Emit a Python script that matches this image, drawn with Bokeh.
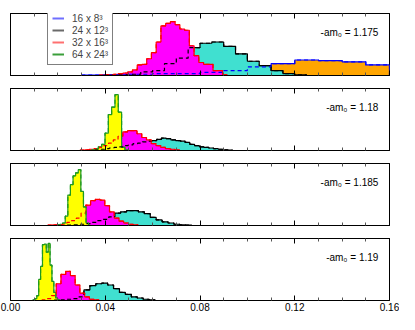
from bokeh.plotting import figure
from bokeh.layouts import column
from bokeh.models import (Range1d, LinearAxis, FixedTicker, NumeralTickFormatter,
                          Label, Legend, LegendItem)
from bokeh.embed import file_html
from bokeh.resources import INLINE

# ---------------- data ----------------
series_names = ["16 x 8\u00b3", "24 x 12\u00b3", "32 x 16\u00b3", "64 x 24\u00b3"]
am0_values = ["1.175", "1.18", "1.185", "1.19"]
major_tick_vals = [0.00, 0.04, 0.08, 0.12, 0.16]
minor_tick_vals = [0.01, 0.02, 0.03, 0.05, 0.06, 0.07, 0.09, 0.10, 0.11, 0.13, 0.14, 0.15]

# each histogram: first bin edge, bin width, bin heights (fraction of panel height)
p1_orange_lo, p1_orange_w = 0.030, 0.010
p1_orange_h = [0.005, 0.01, 0.02, 0.03, 0.03, 0.05, 0.08, 0.14, 0.19, 0.25, 0.24, 0.22, 0.17]
p1_cyan_lo, p1_cyan_w = 0.040, 0.005
p1_cyan_h = [0.005, 0.01, 0.02, 0.06, 0.08, 0.19, 0.28, 0.45, 0.52, 0.54, 0.47, 0.35, 0.23,
             0.16, 0.08, 0.03, 0.01]
p1_magenta_lo, p1_magenta_w = 0.0375, 0.002
p1_magenta_h = [0.005, 0.01, 0.015, 0.02, 0.03, 0.04, 0.06, 0.09, 0.17, 0.18, 0.27, 0.37, 0.54,
                0.80, 0.84, 0.87, 0.82, 0.75, 0.73, 0.48, 0.32, 0.21, 0.18, 0.18, 0.08, 0.08, 0.01]
p1_yellow_lo, p1_yellow_w = 0.0, 0.001
p1_yellow_h = []

p2_orange_lo, p2_orange_w = 0.0, 0.01
p2_orange_h = []
p2_cyan_lo, p2_cyan_w = 0.0357, 0.002
p2_cyan_h = [0.01, 0.02, 0.03, 0.04, 0.05, 0.06, 0.08, 0.09, 0.11, 0.12, 0.14, 0.15, 0.16, 0.18,
             0.20, 0.19, 0.17, 0.16, 0.15, 0.13, 0.10, 0.08, 0.06, 0.05, 0.04, 0.03, 0.02, 0.01, 0.005]
p2_magenta_lo, p2_magenta_w = 0.0294, 0.002
p2_magenta_h = [0.005, 0.01, 0.02, 0.03, 0.05, 0.08, 0.12, 0.17, 0.23, 0.30, 0.32, 0.32, 0.27,
                0.21, 0.17, 0.11, 0.08, 0.05, 0.03, 0.02, 0.01]
p2_yellow_lo, p2_yellow_w = 0.0343, 0.0014
p2_yellow_h = [0.01, 0.03, 0.06, 0.10, 0.28, 0.58, 0.70, 0.90, 0.62, 0.05, 0.01]

p3_orange_lo, p3_orange_w = 0.0, 0.01
p3_orange_h = []
p3_cyan_lo, p3_cyan_w = 0.0240, 0.0025
p3_cyan_h = [0.005, 0.01, 0.02, 0.03, 0.05, 0.08, 0.10, 0.14, 0.20, 0.22, 0.24, 0.24, 0.22, 0.19,
             0.13, 0.09, 0.06, 0.04, 0.02, 0.01, 0.005]
p3_magenta_lo, p3_magenta_w = 0.0158, 0.002
p3_magenta_h = [0.005, 0.01, 0.015, 0.02, 0.05, 0.08, 0.12, 0.20, 0.33, 0.40, 0.42, 0.41, 0.32,
                0.22, 0.12, 0.07, 0.04, 0.02, 0.01]
p3_yellow_lo, p3_yellow_w = 0.0198, 0.0011
p3_yellow_h = [0.01, 0.02, 0.04, 0.15, 0.49, 0.66, 0.80, 0.85, 0.90, 0.55, 0.30, 0.04]

p4_orange_lo, p4_orange_w = 0.0, 0.01
p4_orange_h = []
p4_cyan_lo, p4_cyan_w = 0.0185, 0.0025
p4_cyan_h = [0.005, 0.01, 0.02, 0.03, 0.06, 0.17, 0.24, 0.27, 0.28, 0.25, 0.19, 0.13, 0.10, 0.06,
             0.04, 0.02, 0.01]
p4_magenta_lo, p4_magenta_w = 0.0133, 0.002
p4_magenta_h = [0.01, 0.03, 0.08, 0.27, 0.42, 0.47, 0.40, 0.25, 0.12, 0.06, 0.02, 0.01]
p4_yellow_lo, p4_yellow_w = 0.0095, 0.0008
p4_yellow_h = [0.01, 0.03, 0.08, 0.34, 0.55, 0.90, 0.91, 0.78, 0.92, 0.57, 0.31, 0.13, 0.04, 0.01]

panels = [
    [(p1_orange_lo, p1_orange_w, p1_orange_h), (p1_cyan_lo, p1_cyan_w, p1_cyan_h),
     (p1_magenta_lo, p1_magenta_w, p1_magenta_h), (p1_yellow_lo, p1_yellow_w, p1_yellow_h)],
    [(p2_orange_lo, p2_orange_w, p2_orange_h), (p2_cyan_lo, p2_cyan_w, p2_cyan_h),
     (p2_magenta_lo, p2_magenta_w, p2_magenta_h), (p2_yellow_lo, p2_yellow_w, p2_yellow_h)],
    [(p3_orange_lo, p3_orange_w, p3_orange_h), (p3_cyan_lo, p3_cyan_w, p3_cyan_h),
     (p3_magenta_lo, p3_magenta_w, p3_magenta_h), (p3_yellow_lo, p3_yellow_w, p3_yellow_h)],
    [(p4_orange_lo, p4_orange_w, p4_orange_h), (p4_cyan_lo, p4_cyan_w, p4_cyan_h),
     (p4_magenta_lo, p4_magenta_w, p4_magenta_h), (p4_yellow_lo, p4_yellow_w, p4_yellow_h)],
]

# ---------------- style ----------------
FILL = ["#ffa500", "#40e0d0", "#ff00ff", "#ffff00"]
EDGE = ["#0000ff", "#000000", "#ff0000", "#1f9a1f"]
LEGEND_COL = ["#6f6fff", "#6a6a6a", "#ff7070", "#3a9f3a"]
FONT = "Liberation Sans"
FW, FH = 379, 62
NAN = float("nan")


def outline(lo, w, h):
    xs, ys = [lo], [0.0]
    for i, v in enumerate(h):
        a = lo + i * w
        xs += [a, a + w]
        ys += [v, v]
    xs.append(lo + len(h) * w)
    ys.append(0.0)
    return xs, ys


def tick_only_axis(ticks, length, color):
    ax = LinearAxis(ticker=FixedTicker(ticks=[], minor_ticks=ticks))
    ax.minor_tick_in = length
    ax.minor_tick_out = 0
    ax.major_tick_in = 0
    ax.major_tick_out = 0
    ax.minor_tick_line_color = color
    ax.axis_line_color = "black"
    ax.major_label_standoff = 0
    return ax


borders = [(13, 6), (7, 6), (7, 6), (7, 13)]
figs = []
for k, data in enumerate(panels):
    top_b, bot_b = borders[k]
    last = (k == len(panels) - 1)
    p = figure(frame_width=FW, frame_height=FH, x_range=Range1d(0, 0.16), y_range=Range1d(0, 1),
               output_backend="svg", toolbar_location=None, y_axis_location=None,
               x_axis_location=None,
               min_border_left=10, min_border_right=10, min_border_top=top_b,
               min_border_bottom=bot_b)
    p.grid.visible = False
    p.outline_line_color = "black"
    p.background_fill_color = "white"
    p.border_fill_color = "white"

    # ticks inside the frame, top and bottom
    p.add_layout(tick_only_axis(major_tick_vals, 5, "black"), "above")
    p.add_layout(tick_only_axis(minor_tick_vals, 3, "#555555"), "above")
    if last:
        ax = LinearAxis(ticker=FixedTicker(ticks=major_tick_vals, minor_ticks=minor_tick_vals))
        ax.formatter = NumeralTickFormatter(format="0.00")
        ax.major_tick_in = 5
        ax.major_tick_out = 0
        ax.minor_tick_in = 3
        ax.minor_tick_out = 0
        ax.major_tick_line_color = "black"
        ax.minor_tick_line_color = "#555555"
        ax.axis_line_color = "black"
        ax.major_label_text_font = FONT
        ax.major_label_text_font_size = "10px"
        ax.major_label_text_color = "black"
        ax.major_label_standoff = 2
        p.add_layout(ax, "below")
    else:
        p.add_layout(tick_only_axis(major_tick_vals, 5, "black"), "below")
        p.add_layout(tick_only_axis(minor_tick_vals, 3, "#555555"), "below")

    shapes = [outline(lo, w, h) for (lo, w, h) in data]
    for i, (xs, ys) in enumerate(shapes):
        if len(xs) > 2:
            p.patch(xs, ys, fill_color=FILL[i], line_color=None)
            p.line(xs, ys, line_color=EDGE[i], line_width=1.2)
    for i, (xs, ys) in enumerate(shapes):
        if len(xs) > 2:
            p.line(xs, ys, line_color=EDGE[i], line_width=1.2, line_dash="4 3")

    p.add_layout(Label(x=0.1553, y=0.70, text="-am\u2080 = " + am0_values[k],
                       text_align="right", text_baseline="middle",
                       text_font=FONT, text_font_size="10px", text_color="black"))

    if k == 0:
        items = []
        for name, col in zip(series_names, LEGEND_COL):
            r = p.line(x=[NAN], y=[NAN], line_color=col, line_width=2)
            items.append(LegendItem(label=name, renderers=[r]))
        leg = Legend(items=items, location=(37, 10), margin=0, padding=4, spacing=0,
                     glyph_width=12, glyph_height=12, label_height=12, label_width=34,
                     label_standoff=8,
                     label_text_font=FONT, label_text_font_size="10px",
                     label_text_baseline="middle", label_text_line_height=1.0,
                     border_line_color="black", border_line_width=1,
                     background_fill_color="white", background_fill_alpha=1.0)
        p.add_layout(leg)
    figs.append(p)

layout = column(*figs, spacing=0)
open("out.html", "w").write(file_html(layout, INLINE))
